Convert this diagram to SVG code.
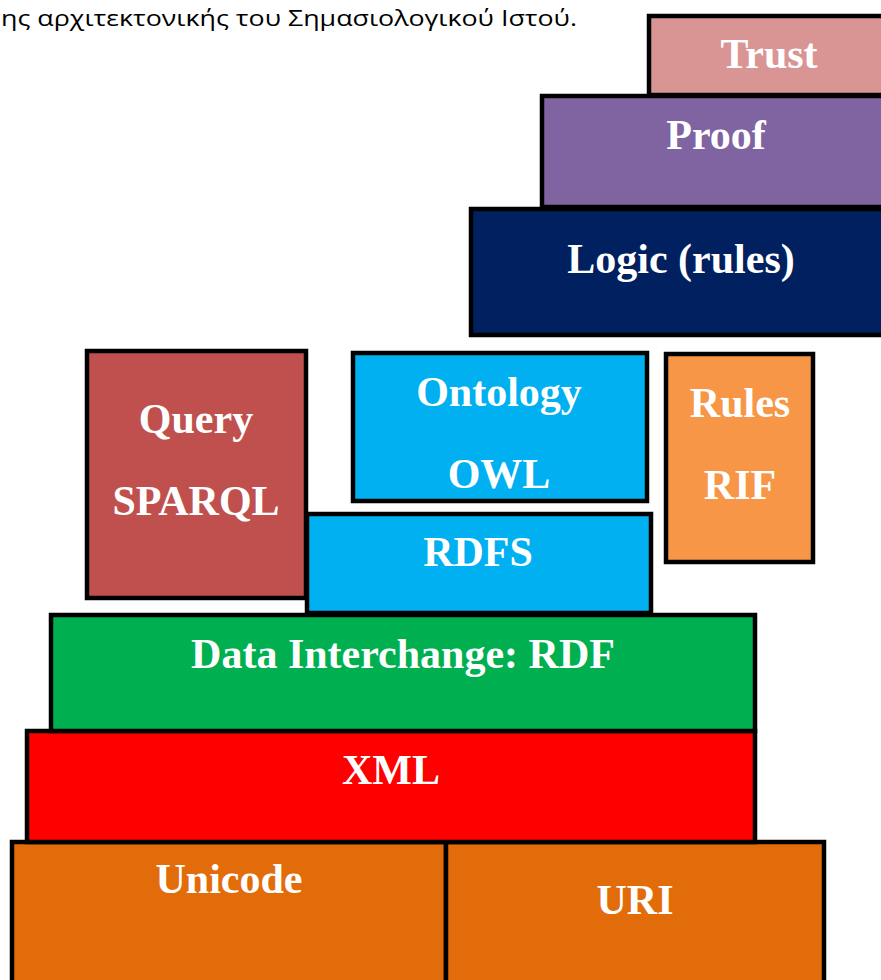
<svg xmlns="http://www.w3.org/2000/svg" width="881" height="980" viewBox="0 0 881 980">
<style>
.b{stroke:#000;stroke-width:4.5;stroke-linejoin:miter}
.t{font-family:"Liberation Serif","Times New Roman",serif;font-weight:bold;font-size:42px;fill:#fff;text-anchor:middle}
.cap{font-family:"Open Sans","Noto Sans",sans-serif;font-size:22px;fill:#000}
</style>
<rect width="881" height="980" fill="#fff"/>
<text class="cap" x="1" y="26" textLength="576" lengthAdjust="spacingAndGlyphs">ης αρχιτεκτονικής του Σημασιολογικού Ιστού.</text>
<g id="unicode"><rect class="b" x="12" y="842" width="434" height="150" fill="#E36C0A"/><text class="t" x="229" y="893">Unicode</text></g>
<g id="uri"><rect class="b" x="446" y="842" width="378" height="150" fill="#E36C0A"/><text class="t" x="635" y="914">URI</text></g>
<g id="xml"><rect class="b" x="27" y="731" width="728" height="111" fill="#FF0000"/><text class="t" x="391" y="784">XML</text></g>
<g id="rdf"><rect class="b" x="51" y="615" width="704" height="116" fill="#00B050"/><text class="t" x="403" y="668">Data Interchange: RDF</text></g>
<g id="rdfs"><rect class="b" x="307" y="514" width="344" height="99" fill="#00B0F0"/><text class="t" x="478" y="566">RDFS</text></g>
<g id="query"><rect class="b" x="87" y="351" width="219" height="247" fill="#C0504D"/><text class="t" x="196" y="433">Query</text><text class="t" x="196" y="515">SPARQL</text></g>
<g id="ontology"><rect class="b" x="353" y="353" width="294" height="148" fill="#00B0F0"/><text class="t" x="499" y="406">Ontology</text><text class="t" x="499" y="488">OWL</text></g>
<g id="rules"><rect class="b" x="666" y="354" width="147" height="208" fill="#F79646"/><text class="t" x="740" y="417">Rules</text><text class="t" x="740" y="499">RIF</text></g>
<g id="logic"><rect class="b" x="471" y="209" width="430" height="126" fill="#002060"/><text class="t" x="681" y="273">Logic (rules)</text></g>
<g id="proof"><rect class="b" x="542" y="96" width="360" height="111" fill="#8064A2"/><text class="t" x="716" y="149">Proof</text></g>
<g id="trust"><rect class="b" x="649" y="16" width="260" height="79" fill="#D99594"/><text class="t" x="769" y="68">Trust</text></g>
<g id="connectors"/>
</svg>
